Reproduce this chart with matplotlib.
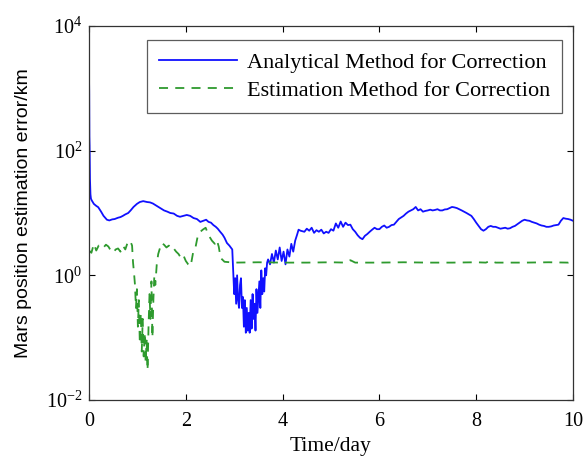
import matplotlib
matplotlib.use("Agg")
import matplotlib.pyplot as plt
from matplotlib.ticker import FixedLocator, FixedFormatter, NullLocator

plt.rcParams['font.family'] = ['Liberation Serif', 'DejaVu Serif']
plt.rcParams['mathtext.fontset'] = 'custom'
plt.rcParams['mathtext.rm'] = 'Liberation Serif'
plt.rcParams['mathtext.it'] = 'Liberation Serif'

# Analytical Method for Correction (blue)
t_ana = [0.000, 0.004, 0.008, 0.012, 0.016, 0.020, 0.025, 0.030, 0.040, 0.055, 0.10, 0.15, 0.19, 0.25, 0.30, 0.37,
         0.42, 0.48, 0.53, 0.60, 0.65, 0.70, 0.75, 0.81, 0.86, 0.92, 0.99, 1.05, 1.12, 1.20, 1.26, 1.32,
         1.40, 1.47, 1.55, 1.62, 1.68, 1.75, 1.82, 1.88, 1.95, 2.02, 2.09, 2.16, 2.23, 2.30, 2.36, 2.42,
         2.47, 2.52, 2.57, 2.62, 2.66, 2.71, 2.76, 2.80, 2.85, 2.90, 2.96, 2.98, 3.00, 3.02, 3.04, 3.06,
         3.08, 3.10, 3.12, 3.14, 3.16, 3.18, 3.20, 3.22, 3.24, 3.26, 3.28, 3.30, 3.32, 3.34, 3.36, 3.38,
         3.40, 3.42, 3.44, 3.46, 3.48, 3.50, 3.52, 3.54, 3.56, 3.58, 3.60, 3.62, 3.64, 3.66, 3.68, 3.70,
         3.74, 3.78, 3.82, 3.86, 3.90, 3.94, 3.98, 4.02, 4.06, 4.10, 4.14, 4.18, 4.22, 4.26, 4.30, 4.33,
         4.37, 4.45, 4.50, 4.55, 4.60, 4.65, 4.70, 4.75, 4.80, 4.85, 4.90, 4.95, 5.00, 5.05, 5.10, 5.15,
         5.20, 5.25, 5.30, 5.35, 5.40, 5.45, 5.50, 5.55, 5.60, 5.65, 5.70, 5.75, 5.80, 5.85, 5.90, 5.95,
         6.00, 6.05, 6.10, 6.15, 6.20, 6.25, 6.30, 6.35, 6.40, 6.45, 6.50, 6.55, 6.60, 6.65, 6.70, 6.75,
         6.80, 6.85, 6.90, 6.95, 7.00, 7.05, 7.10, 7.15, 7.20, 7.25, 7.30, 7.35, 7.40, 7.45, 7.50, 7.55,
         7.60, 7.65, 7.70, 7.75, 7.80, 7.85, 7.90, 7.95, 8.00, 8.05, 8.10, 8.15, 8.20, 8.25, 8.30, 8.35,
         8.40, 8.45, 8.50, 8.55, 8.60, 8.65, 8.70, 8.75, 8.80, 8.85, 8.90, 8.95, 9.00, 9.05, 9.10, 9.15,
         9.20, 9.25, 9.30, 9.35, 9.40, 9.45, 9.50, 9.55, 9.60, 9.65, 9.70, 9.75, 9.80, 9.85, 9.90, 9.95,
         10.00]
y_ana = [1600, 900, 170, 120, 60, 35, 25, 20, 17, 16, 14, 13, 12.4, 10.5, 9.0, 7.8,
         7.6, 7.9, 8.0, 8.4, 8.6, 9.0, 9.5, 10.0, 11.0, 12.5, 14.0, 15.0, 15.5, 15.0, 14.8, 14.2,
         13.0, 12.0, 11.0, 10.5, 10.0, 9.8, 9.0, 8.7, 9.0, 9.3, 9.0, 8.3, 8.0, 7.2, 7.5, 7.8,
         7.2, 7.0, 6.4, 6.0, 5.6, 5.0, 4.5, 4.0, 3.3, 3.0, 2.6, 1.1, 0.5, 0.9, 0.35, 1.0,
         0.4, 0.3, 0.7, 0.9, 0.3, 0.45, 0.15, 0.4, 0.12, 0.3, 0.13, 0.25, 0.12, 0.4, 0.14, 0.5,
         0.2, 0.35, 0.13, 0.6, 0.25, 0.45, 0.8, 0.3, 1.2, 0.5, 0.9, 0.55, 1.3, 1.0, 1.6, 1.8,
         1.5, 2.2, 1.6, 2.5, 1.8, 2.8, 1.7, 2.4, 1.5, 2.6, 2.0, 3.2, 2.4, 3.6, 4.5, 5.4,
         5.2, 5.0, 5.6, 5.2, 5.8, 4.8, 5.3, 5.0, 5.4, 4.7, 5.0, 4.8, 5.5, 5.2, 6.8, 5.8,
         7.3, 6.0, 7.0, 6.4, 6.5, 5.5, 5.0, 4.4, 4.0, 3.8, 4.3, 4.6, 5.0, 5.4, 5.8, 5.5,
         5.5, 6.0, 6.3, 5.8, 6.0, 6.4, 6.5, 7.2, 8.0, 8.5, 9.0, 9.8, 10.5, 11.0, 11.5, 12.5,
         11.0, 11.5, 10.5, 10.8, 11.0, 11.3, 11.0, 11.2, 11.5, 11.0, 11.0, 11.4, 11.5, 12.0, 12.5, 12.3,
         12.0, 11.5, 11.0, 10.5, 10.0, 9.5, 9.0, 8.0, 7.0, 6.2, 5.5, 5.2, 5.5, 6.0, 6.2, 6.0,
         6.0, 5.8, 5.6, 5.7, 5.8, 5.6, 5.7, 6.0, 6.2, 6.6, 7.0, 7.5, 7.8, 7.6, 7.5, 7.2,
         7.0, 6.8, 6.5, 6.3, 6.2, 6.0, 6.0, 6.1, 6.3, 6.4, 6.5, 7.5, 8.3, 8.1, 8.0, 7.8,
         7.5]

# Estimation Method for Correction (green dashed)
t_est = [0.00, 0.05, 0.10, 0.15, 0.20, 0.25, 0.30, 0.35, 0.40, 0.45, 0.50, 0.55, 0.60, 0.65, 0.70, 0.75,
         0.80, 0.85, 0.89, 0.91, 0.93, 0.95, 0.97, 0.99, 1.01, 1.03, 1.05, 1.07, 1.09, 1.11, 1.13, 1.15,
         1.17, 1.19, 1.21, 1.23, 1.25, 1.27, 1.29, 1.31, 1.33, 1.35, 1.37, 1.40, 1.43, 1.47, 1.50, 1.55,
         1.60, 1.65, 1.70, 1.75, 1.80, 1.85, 1.90, 1.95, 2.00, 2.05, 2.10, 2.15, 2.20, 2.25, 2.30, 2.35,
         2.41, 2.47, 2.54, 2.60, 2.64, 2.68, 2.72, 2.80, 3.00, 3.50, 4.00, 4.50, 5.00, 5.30, 5.40, 5.50,
         6.00, 6.50, 7.00, 7.50, 8.00, 8.20, 8.30, 8.40, 9.00, 9.50, 9.90, 10.00]
y_est = [2.5, 2.3, 3.2, 2.5, 3.0, 2.7, 2.8, 3.1, 2.9, 2.5, 2.3, 2.6, 2.7, 2.4, 3.0, 2.6,
         3.4, 3.6, 3.0, 1.6, 1.1, 0.7, 0.3, 0.6, 0.15, 0.4, 0.08, 0.25, 0.06, 0.2, 0.05, 0.12,
         0.04, 0.09, 0.03, 0.15, 0.5, 0.2, 0.8, 0.1, 0.4, 1.0, 0.7, 1.5, 2.2, 2.8, 3.3, 3.1,
         2.8, 3.0, 2.6, 2.7, 2.4, 2.2, 1.9, 2.1, 1.7, 1.5, 1.4, 2.3, 2.8, 4.4, 5.0, 5.4,
         5.8, 4.4, 3.6, 3.2, 3.7, 2.9, 1.9, 1.65, 1.6, 1.62, 1.6, 1.6, 1.62, 1.6, 1.75, 1.6,
         1.6, 1.62, 1.6, 1.6, 1.62, 1.6, 1.72, 1.6, 1.6, 1.62, 1.6, 1.7]

x_ticks = [0, 2, 4, 6, 8, 10]
y_ticks = [1e-2, 1e0, 1e2, 1e4]
y_tick_labels = [r'$\mathregular{10^{-2}}$', r'$\mathregular{10^{0}}$', r'$\mathregular{10^{2}}$', r'$\mathregular{10^{4}}$']

fig = plt.figure(figsize=(5.83, 4.57), dpi=100)
ax = fig.add_axes([89/583, 57/457, 484/583, 374/457])

ax.plot(t_ana, y_ana, color='#1010ff', lw=1.3, label='Analytical Method for Correction')
ax.plot(t_est, y_est, color='#2e9a2e', lw=1.3, ls=(0, (5, 4)), label='Estimation Method for Correction')

ax.set_yscale('log')
ax.set_xlim(0, 10)
ax.set_ylim(1e-2, 1e4)
ax.xaxis.set_major_locator(FixedLocator(x_ticks))
ax.yaxis.set_major_locator(FixedLocator(y_ticks))
ax.yaxis.set_major_formatter(FixedFormatter(y_tick_labels))
ax.yaxis.set_minor_locator(NullLocator())
ax.tick_params(direction='in', top=True, right=True, labelsize=14.5, length=4, width=0.8)
ax.tick_params(axis='x', pad=9)
ax.tick_params(axis='y', pad=5)
for s in ax.spines.values():
    s.set_linewidth(0.9)
    s.set_color('#333333')

ax.set_xlabel('Time/day', fontsize=15.5, labelpad=4)
ax.set_ylabel('Mars position estimation error/km', fontsize=14, labelpad=10,
              family=['Liberation Sans', 'DejaVu Sans'])

leg = ax.legend(loc='upper right', bbox_to_anchor=(562/583, 1 - 40/457), bbox_transform=fig.transFigure,
                fontsize=16, frameon=True, fancybox=False, edgecolor='#333333', handlelength=3.5,
                borderaxespad=0, borderpad=0.55, labelspacing=0.35, handletextpad=0.45)
leg.get_frame().set_linewidth(0.9)

fig.savefig('out.png', dpi=100)
